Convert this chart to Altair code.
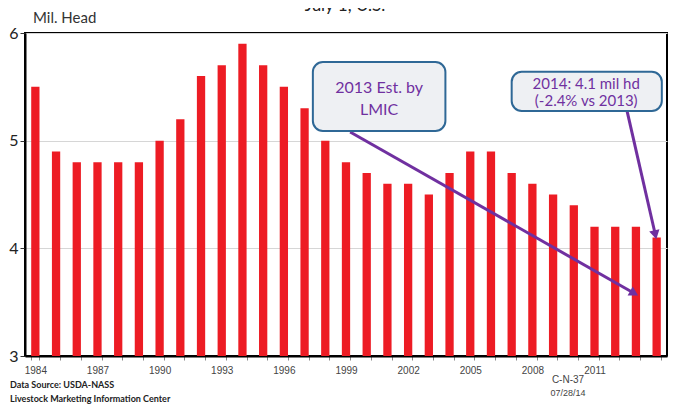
import altair as alt
import pandas as pd

# ---- data ----
years = list(range(1984, 2015))
head = [5.5, 4.9, 4.8, 4.8, 4.8, 4.8, 5.0, 5.2, 5.6, 5.7, 5.9, 5.7, 5.5, 5.3, 5.0,
        4.8, 4.7, 4.6, 4.6, 4.5, 4.7, 4.9, 4.9, 4.7, 4.6, 4.5, 4.4, 4.2, 4.2, 4.2, 4.1]

# callout boxes (data coordinates: year, million head)
box_x = [1997.4, 2007.0]
box_x2 = [2003.8, 2014.25]
box_y = [5.73, 5.64]
box_y2 = [5.09, 5.276]

# callout texts
txt_x = [2000.6, 2000.6, 2010.6, 2010.6]
txt_y = [5.49, 5.285, 5.525, 5.37]
txt_s = ["2013 Est. by", "LMIC", "2014: 4.1 mil hd", "(-2.4% vs 2013)"]
txt_size = [16, 16, 15, 15]

# arrows
arr_x = [1999.2, 2012.57]
arr_y = [5.08, 5.276]
arr_x2 = [2012.85, 2013.92]
arr_y2 = [3.59, 4.14]
arr_angle = [119.6, 167.1]

bars_df = pd.DataFrame({"year": years, "head": head})
box_df = pd.DataFrame({"x": box_x, "x2": box_x2, "y": box_y, "y2": box_y2})
txt_df = pd.DataFrame({"x": txt_x, "y": txt_y, "t": txt_s, "s": txt_size})
arr_df = pd.DataFrame({"x": arr_x, "y": arr_y, "x2": arr_x2, "y2": arr_y2, "a": arr_angle})

W, H = 642, 323
yscale = alt.Scale(domain=[3, 6], nice=False, zero=False)
qx = alt.Scale(domain=[1983.5, 2014.5], nice=False, zero=False)

bars = alt.Chart(bars_df).mark_bar(color="#ed1c24").encode(
    x=alt.X("year:O",
            scale=alt.Scale(paddingInner=0.6, paddingOuter=0.3),
            axis=alt.Axis(title=None, labelAngle=0, tickBand="extent", tickSize=4,
                          tickColor="#888", domainColor="black", domainWidth=2,
                          labelFont="Liberation Sans", labelFontSize=10, labelColor="#444",
                          labelPadding=5,
                          labelExpr="(datum.value - 1984) % 3 == 0 && datum.value < 2014 ? datum.label : ''")),
    y=alt.Y("head:Q", scale=yscale,
            axis=alt.Axis(title=None, values=[3, 4, 5, 6], format="d", grid=True,
                          gridColor="#d6d6d6",
                          tickSize=5, tickColor="#333", domainColor="black", domainWidth=2,
                          labelFont="Lato", labelFontSize=16, labelColor="#222",
                          labelPadding=2)),
    y2=alt.datum(3),
)

rules = alt.Chart(arr_df).mark_rule(color="#7030a0", strokeWidth=3).encode(
    x=alt.X("x:Q", scale=qx, axis=None),
    x2="x2:Q",
    y=alt.Y("y:Q", scale=yscale),
    y2="y2:Q",
)

heads = alt.Chart(arr_df).mark_point(shape="triangle", filled=True, color="#7030a0",
                                     opacity=1, size=110).encode(
    x=alt.X("x2:Q", scale=qx, axis=None),
    y=alt.Y("y2:Q", scale=yscale),
    angle=alt.Angle("a:Q", scale=None),
)

boxes = alt.Chart(box_df).mark_rect(fill="#eef0f3", stroke="#2f6896", strokeWidth=2,
                                    cornerRadius=10).encode(
    x=alt.X("x:Q", scale=qx, axis=None),
    x2="x2:Q",
    y=alt.Y("y:Q", scale=yscale),
    y2="y2:Q",
)

texts = alt.Chart(txt_df).mark_text(font="Lato", color="#7030a0",
                                    baseline="middle", align="center").encode(
    x=alt.X("x:Q", scale=qx, axis=None),
    y=alt.Y("y:Q", scale=yscale),
    text="t:N",
    size=alt.Size("s:Q", scale=None),
)

def label(txt, x, y, size, color="#333", weight="normal", font="Lato", align="left"):
    return alt.Chart(pd.DataFrame({"t": [txt]})).mark_text(
        font=font, fontSize=size, color=color, fontWeight=weight, align=align,
        baseline="middle").encode(x=alt.value(x), y=alt.value(y), text="t:N")

title = label("July 1, U.S.", 320, -27, 17, color="#222", align="center")
ylab = label("Mil. Head", 8, -15, 15, color="#333")
src = label("Data Source:  USDA-NASS", -15, 352, 9, color="#222", weight="bold")
lmic = label("Livestock Marketing Information Center", -15, 366, 9, color="#222", weight="bold")
code = label("C-N-37", 543, 347, 10, color="#444", font="Liberation Sans", align="center")
date = label("07/28/14", 543, 360, 9, color="#444", font="Liberation Sans", align="center")

chart = alt.layer(bars, rules, heads, boxes, texts, title, ylab, src, lmic, code, date).resolve_scale(
    x="independent"
).properties(
    width=W, height=H,
    autosize=alt.AutoSizeParams(type="none"),
    padding={"left": 17, "top": 25, "right": 5, "bottom": 49},
).configure_view(stroke="black", strokeWidth=2)

chart.save("out.html", embed_options={"renderer": "svg", "actions": False})
